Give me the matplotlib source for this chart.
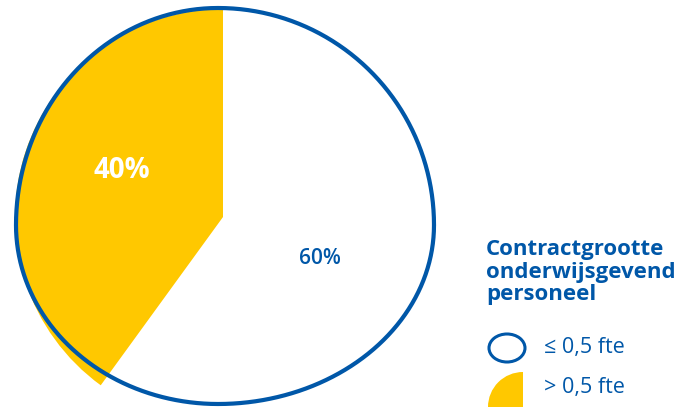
import matplotlib
matplotlib.use("Agg")
import matplotlib.pyplot as plt
import numpy as np
from matplotlib.patches import Ellipse, Wedge

# data
categories = ["> 0,5 fte", "\u2264 0,5 fte"]
shares = [40, 60]
pct_labels = ["40%", "60%"]
legend_title = "Contractgrootte\nonderwijsgevend\npersoneel"

BLUE = "#0057a8"
YELLOW = "#ffc800"
W, H = 692, 407

plt.rcParams["font.family"] = ["Open Sans", "DejaVu Sans"]

fig = plt.figure(figsize=(W / 100, H / 100), dpi=100)
ax = fig.add_axes([0, 0, 1, 1])

# yellow slice; the 60% slice is left blank and outlined in blue
ax.pie(shares, colors=[YELLOW, "none"], startangle=90, counterclock=True,
       center=(223, 190), radius=208, wedgeprops=dict(linewidth=0))

# blue outline is a slightly lopsided oval (each quadrant its own radius)
cx, cy = 218, 182
r_right, r_left, r_top, r_bottom = 216, 202, 217, 179
t = np.linspace(0, 2 * np.pi, 721)
ox = cx + np.where(np.cos(t) > 0, r_right, r_left) * np.cos(t)
oy = cy + np.where(np.sin(t) > 0, r_top, r_bottom) * np.sin(t)
ax.plot(ox, oy, color=BLUE, linewidth=3.0, zorder=3, solid_capstyle="round")

ax.text(122, H - 170, pct_labels[0], color="white", fontsize=20,
        fontweight="bold", ha="center", va="center", zorder=4)
ax.text(320, H - 258, pct_labels[1], color=BLUE, fontsize=15,
        fontweight="semibold", ha="center", va="center", zorder=4)

# legend
ax.text(486, H - 239, legend_title, color=BLUE, fontsize=16,
        fontweight="bold", ha="left", va="top", linespacing=1.1)
ax.add_patch(Ellipse((507, H - 348), 36, 28, facecolor="white",
                     edgecolor=BLUE, linewidth=2.2))
ax.add_patch(Wedge((523, 0), 35, 90, 180, facecolor=YELLOW, linewidth=0))
ax.text(544, H - 348, categories[1], color=BLUE, fontsize=15.5,
        ha="left", va="center")
ax.text(544, H - 388, categories[0], color=BLUE, fontsize=15.5,
        ha="left", va="center")

ax.set_xlim(0, W)
ax.set_ylim(0, H)
ax.set_aspect("equal")
ax.axis("off")

fig.savefig("out.png", dpi=100)
